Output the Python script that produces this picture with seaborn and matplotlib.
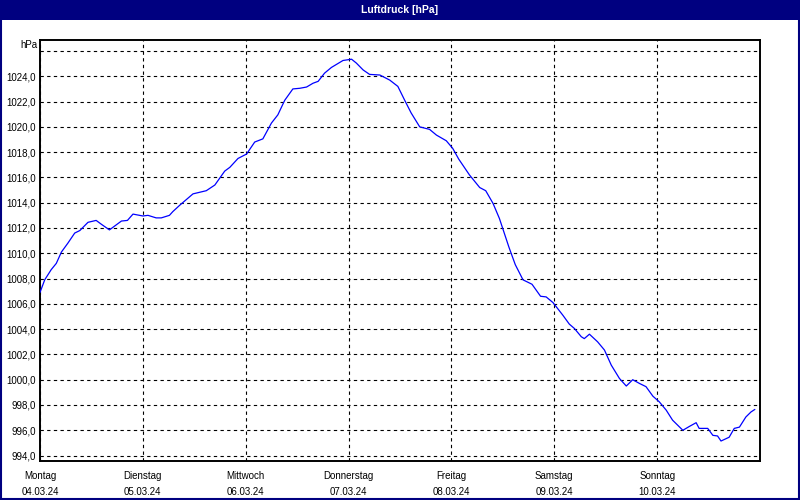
import matplotlib
matplotlib.use("Agg")
import matplotlib.pyplot as plt
import matplotlib.patches as patches
import seaborn as sns

# hours since Mon 04.03.24 00:00, air pressure in hPa
hours = [0, 1.1, 2.6, 3.8, 5.0, 6.5, 8.1, 9.3, 11.2, 13.1, 14.3, 16.2, 19.0, 20.4, 21.7,
         24.0, 25.2, 27.1, 28.3, 30.2, 31.0, 32.6, 35.7, 38.8, 40.8, 43.1, 44.3, 46.2,
         48.2, 50.1, 52.0, 54.0, 55.5, 57.1, 59.0, 60.6, 62.2, 63.7, 64.9, 66.4, 68.0,
         70.7, 72.7, 73.8, 75.4, 76.9, 79.3, 81.6, 83.5, 85.1, 86.6, 88.6, 90.9, 92.5,
         94.8, 96.3, 97.7, 100.2, 102.6, 104.0, 105.7, 107.2, 109.4, 110.9, 112.7, 114.8,
         116.8, 118.1, 119.7, 122.0, 123.5, 124.7, 126.3, 127.0, 128.2, 130.1, 131.7,
         133.3, 135.2, 136.8, 138.3, 139.9, 141.4, 143.0, 144.5, 146.1, 147.6, 148.8,
         150.0, 151.5, 153.1, 153.8, 155.8, 157.0, 158.1, 158.9, 160.8, 162.0, 163.2,
         164.7, 165.9, 166.8]
pressure = [1006.9, 1007.9, 1008.7, 1009.2, 1010.1, 1010.8, 1011.6, 1011.8, 1012.45, 1012.6,
            1012.3, 1011.85, 1012.55, 1012.6, 1013.1, 1012.95, 1013.0, 1012.8, 1012.8,
            1013.0, 1013.3, 1013.8, 1014.7, 1014.95, 1015.4, 1016.5, 1016.8, 1017.5,
            1017.85, 1018.8, 1019.05, 1020.3, 1020.95, 1022.1, 1023.0, 1023.05, 1023.15,
            1023.45, 1023.6, 1024.25, 1024.7, 1025.25, 1025.35, 1025.05, 1024.5, 1024.15,
            1024.1, 1023.7, 1023.2, 1022.1, 1021.1, 1020.0, 1019.8, 1019.35, 1018.9,
            1018.3, 1017.45, 1016.2, 1015.2, 1014.95, 1013.95, 1012.75, 1010.5, 1009.1,
            1007.9, 1007.55, 1006.6, 1006.55, 1006.1, 1005.1, 1004.4, 1004.05, 1003.4,
            1003.25, 1003.6, 1003.0, 1002.35, 1001.15, 1000.1, 999.5, 1000.0, 999.7,
            999.45, 998.7, 998.25, 997.6, 996.8, 996.4, 996.0, 996.3, 996.6, 996.15,
            996.15, 995.6, 995.55, 995.15, 995.45, 996.15, 996.25, 997.05, 997.45, 997.65]

day_names = ["Montag", "Dienstag", "Mittwoch", "Donnerstag", "Freitag", "Samstag", "Sonntag"]
day_dates = ["04.03.24", "05.03.24", "06.03.24", "07.03.24", "08.03.24", "09.03.24", "10.03.24"]
y_ticks = list(range(994, 1026, 2))

sns.set_style("white")
plt.rcParams['font.family'] = ['Liberation Sans', 'DejaVu Sans']

fig = plt.figure(figsize=(8, 5), dpi=100)
fig.patch.set_facecolor("white")

# title bar + window border
fig.patches.append(patches.Rectangle((0, 0.96), 1, 0.04, transform=fig.transFigure,
                                     facecolor="#000080", edgecolor="none", zorder=0))
fig.patches.append(patches.Rectangle((0.001, 0.002), 0.998, 0.996, transform=fig.transFigure,
                                     facecolor="none", edgecolor="#000080", lw=1.5, zorder=5))
fig.text(0.5, 0.98, "Luftdruck [hPa]", color="white", fontsize=7.5, fontweight="bold",
         ha="center", va="center")

ax = fig.add_axes([0.05, 0.078, 0.9, 0.842])
sns.lineplot(x=hours, y=pressure, ax=ax, color="#0000ff", lw=0.9, zorder=3)

ax.set_xlim(0, 168)
ax.set_ylim(993.57, 1026.87)
ax.set_xticks([24 * i for i in range(7)])
ax.set_xticklabels([f"{n}\n{d}" for n, d in zip(day_names, day_dates)],
                   fontsize=7, linespacing=1.75, color="black")
ax.set_yticks(y_ticks)
ax.set_yticklabels([f"{v},0" for v in y_ticks], fontsize=7, color="black")
ax.tick_params(axis="y", length=0, pad=3)
ax.tick_params(axis="x", length=3, pad=4, color="black")
ax.set_xlabel("")
ax.set_ylabel("")

ax.grid(True, color="black", linestyle=(0, (3, 3)), lw=0.8)
ax.axhline(1026, color="black", linestyle=(0, (3, 3)), lw=0.8, zorder=1)
ax.text(-0.004, 1026.5, "hPa", transform=ax.get_yaxis_transform(), ha="right",
        va="center", fontsize=7, color="black")

for s in ax.spines.values():
    s.set_color("black")
    s.set_linewidth(1.4)

fig.savefig("out.png", dpi=100)
